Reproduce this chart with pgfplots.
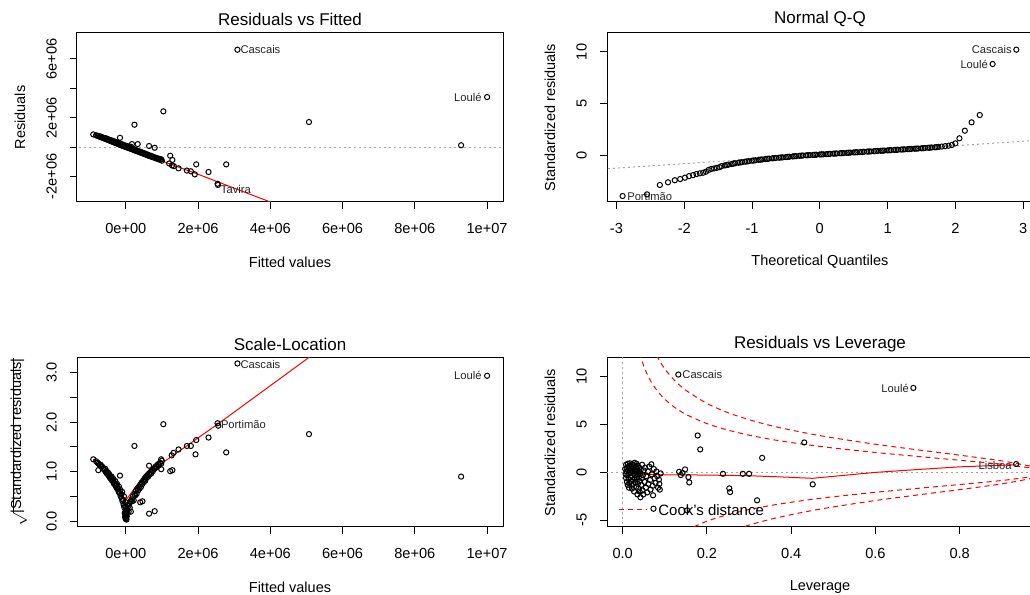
\documentclass[border=0pt]{standalone}
\usepackage{fontspec}
\setmainfont{Liberation Sans}
\usepackage{pgfplots}
\pgfplotsset{compat=1.18}

\pgfplotsset{
  rplot/.style={
    scale only axis, width=213pt, height=84.5pt, anchor=south west,
    axis line style={line width=0.5pt}, axis background/.style={fill=white},
    tick align=outside, xtick pos=left, ytick pos=left,
    major tick length=3.5pt, tick style={black, line width=0.5pt},
    minor tick num=0, clip=true,
    xticklabel style={font=\fontsize{7.3}{8}\selectfont, anchor=north, inner sep=6.8pt},
    yticklabel style={font=\fontsize{7.3}{8}\selectfont, rotate=90, anchor=south, inner sep=6.4pt},
    title style={at={(axis description cs:0.5,1.083)}, anchor=center, yshift=-6pt, font=\fontsize{8.5}{10}\selectfont},
    xlabel style={at={(axis description cs:0.5,-0.355)}, anchor=center, font=\fontsize{7.25}{8}\selectfont},
    ylabel style={at={(axis description cs:-0.134,0.5)}, anchor=center, font=\fontsize{7.25}{8}\selectfont},
  },
  pts/.style={only marks, mark=o, mark size=1.3pt, black, mark options={line width=0.5pt}},
  lowess/.style={red, line width=0.5pt, mark=none},
  zeroline/.style={gray!70, line width=0.5pt, dash pattern=on 1pt off 1.5pt, mark=none},
  cook/.style={red, line width=0.5pt, dash pattern=on 2.5pt off 2pt, mark=none, smooth},
}
\tikzset{lab/.style={font=\fontsize{5.6}{6}\selectfont, text=black!85, inner sep=0.8pt}}

\begin{document}
\begin{tikzpicture}
\path[use as bounding box, fill=white] (0,0) rectangle (515pt,297.5pt);

% ---------- Residuals vs Fitted ----------
\begin{axis}[rplot, at={(38.5pt,196.5pt)},
  xmin=-1.35, xmax=10.44, ymin=-3.74, ymax=7.76,
  xtick={0,2,4,6,8,10}, xticklabels={0e+00,2e+06,4e+06,6e+06,8e+06,1e+07},
  ytick={-2,0,2,4,6}, yticklabels={-2e+06,,2e+06,,6e+06},
  title={Residuals vs Fitted}, xlabel={Fitted values}, ylabel={Residuals}]
\addplot[zeroline] coordinates {(-2,0) (11,0)};
\addplot[pts] coordinates {
(-0.90,0.86) (-0.82,0.80) (-0.78,0.76) (-0.75,0.74) (-0.72,0.70) (-0.70,0.72) (-0.68,0.66) (-0.66,0.68)
(-0.64,0.63) (-0.62,0.62) (-0.60,0.60) (-0.58,0.58) (-0.57,0.62) (-0.55,0.54) (-0.53,0.56) (-0.52,0.51)
(-0.50,0.50) (-0.49,0.53) (-0.47,0.47) (-0.46,0.50) (-0.45,0.44) (-0.43,0.46) (-0.42,0.41) (-0.40,0.42)
(-0.39,0.45) (-0.38,0.37) (-0.36,0.38) (-0.35,0.36) (-0.34,0.40) (-0.33,0.32) (-0.31,0.33) (-0.30,0.30)
(-0.29,0.36) (-0.28,0.28) (-0.26,0.29) (-0.25,0.25) (-0.24,0.31) (-0.23,0.23) (-0.21,0.24) (-0.20,0.20)
(-0.19,0.27) (-0.18,0.18) (-0.16,0.17) (-0.15,0.22) (-0.14,0.14) (-0.12,0.16) (-0.11,0.11) (-0.10,0.19)
(-0.09,0.09) (-0.07,0.10) (-0.06,0.06) (-0.05,0.14) (-0.04,0.04) (-0.02,0.05) (-0.01,0.02) (0.00,0.08)
(0.01,0.00) (0.03,0.01) (0.04,-0.03) (0.05,0.06) (0.07,-0.05) (0.08,-0.02) (0.10,-0.09) (0.11,-0.04)
(0.13,-0.11) (0.14,0.02) (0.16,-0.14) (0.18,-0.12) (0.20,-0.18) (0.22,-0.13) (0.24,-0.22) (0.26,-0.20)
(0.28,-0.26) (0.30,-0.22) (0.32,-0.30) (0.34,-0.27) (0.36,-0.33) (0.38,-0.30) (0.40,-0.37) (0.42,-0.33)
(0.44,-0.41) (0.46,-0.38) (0.48,-0.44) (0.50,-0.42) (0.52,-0.48) (0.54,-0.45) (0.56,-0.52) (0.58,-0.50)
(0.60,-0.56) (0.62,-0.53) (0.64,-0.60) (0.66,-0.58) (0.68,-0.63) (0.70,-0.60) (0.72,-0.67) (0.75,-0.65)
(0.78,-0.72) (0.80,-0.70) (0.83,-0.77) (0.86,-0.75) (0.89,-0.82) (0.92,-0.80) (0.95,-0.87) (0.98,-0.84)
(1.00,-0.93)
(-0.16,0.63) (0.17,0.20) (0.33,0.20) (0.645,0.07) (0.80,-0.05) (0.97,-0.84)
(1.04,2.43) (0.24,1.52) (5.07,1.70) (9.28,0.12) (2.78,-1.18) (1.95,-1.18) (2.29,-1.70)
(2.54,-2.50) (2.55,-2.58) (1.91,-1.86) (1.69,-1.60) (1.80,-1.65) (1.46,-1.45) (1.28,-1.25)
(1.23,-0.59) (1.29,-0.88) (1.33,-1.30) (1.20,-1.12)
(3.09,6.62) (10.0,3.40)
};
\addplot[lowess] coordinates {(-0.90,0.86) (-0.5,0.48) (0,0.0) (0.5,-0.45) (1.0,-0.95) (2.0,-1.85) (3.0,-2.80) (4.0,-3.74) (5.0,-4.70) (10,-9.3)};
\node[lab, anchor=west] at (axis cs:3.12,6.62) {Cascais};
\node[lab, anchor=east] at (axis cs:9.90,3.40) {Loulé};
\node[lab, anchor=west] at (axis cs:2.58,-2.88) {Tavira};
\end{axis}

% ---------- Normal Q-Q ----------
\begin{axis}[rplot, at={(303.5pt,196.5pt)},
  xmin=-3.14, xmax=3.146, ymin=-4.56, ymax=11.84,
  xtick={-3,-2,-1,0,1,2,3}, xticklabels={-3,-2,-1,0,1,2,3},
  ytick={0,5,10}, yticklabels={0,5,10},
  title={Normal Q-Q}, xlabel={Theoretical Quantiles}, ylabel={Standardized residuals}]
\addplot[zeroline] coordinates {(-3.2,-1.36) (3.2,1.42)};
\addplot[pts] coordinates {
(-2.91,-3.98) (-2.55,-3.82) (-2.36,-2.91) (-2.24,-2.65) (-2.14,-2.45) (-2.06,-2.33) (-1.99,-2.20)
(-1.93,-2.05) (-1.87,-1.95) (-1.82,-1.85) (-1.77,-1.78) (-1.72,-1.72) (-1.68,-1.62) (-1.64,-1.45)
(-1.60,-1.35) (-1.56,-1.30) (-1.52,-1.25) (-1.48,-1.18) (-1.45,-1.08) (-1.40,-1.01) (-1.35,-0.94)
(-1.30,-0.87) (-1.25,-0.80) (-1.20,-0.75) (-1.15,-0.70) (-1.10,-0.65) (-1.05,-0.60) (-1.00,-0.55)
(-0.95,-0.51) (-0.90,-0.47) (-0.85,-0.43) (-0.80,-0.39) (-0.75,-0.35) (-0.70,-0.32) (-0.65,-0.29)
(-0.60,-0.26) (-0.55,-0.23) (-0.50,-0.20) (-0.45,-0.17) (-0.40,-0.14) (-0.35,-0.11) (-0.30,-0.08)
(-0.25,-0.05) (-0.20,-0.03) (-0.15,-0.01) (-0.10,0.01) (-0.05,0.03) (0.00,0.05) (0.05,0.07)
(0.10,0.09) (0.15,0.11) (0.20,0.13) (0.25,0.15) (0.30,0.17) (0.35,0.19) (0.40,0.21) (0.45,0.23)
(0.50,0.25) (0.55,0.27) (0.60,0.29) (0.65,0.31) (0.70,0.33) (0.75,0.35) (0.80,0.37) (0.85,0.39)
(0.90,0.41) (0.95,0.43) (1.00,0.45) (1.05,0.47) (1.10,0.49) (1.15,0.51) (1.20,0.53) (1.25,0.55)
(1.30,0.57) (1.35,0.59) (1.40,0.61) (1.45,0.63) (1.50,0.65) (1.55,0.68) (1.60,0.70) (1.65,0.73)
(1.70,0.75) (1.75,0.78) (1.80,0.82) (1.85,0.86) (1.90,0.90) (1.95,0.98) (2.00,1.13) (2.06,1.62)
(2.14,2.36) (2.24,3.17) (2.36,3.88) (2.55,8.83) (2.90,10.22)
(-0.975,-0.53) (-0.875,-0.45) (-0.775,-0.37) (-0.675,-0.30) (-0.575,-0.24) (-0.475,-0.18) (-0.375,-0.12)
(-0.275,-0.06) (-0.175,-0.02) (-0.075,0.02) (0.025,0.06) (0.125,0.10) (0.225,0.14) (0.325,0.18)
(0.425,0.22) (0.525,0.26) (0.625,0.30) (0.725,0.34) (0.825,0.38) (0.925,0.42) (1.025,0.46)
(1.125,0.50) (1.225,0.54) (1.325,0.58) (1.425,0.62) (1.525,0.66) (1.625,0.71) (1.725,0.76)
(-1.075,-0.62) (-1.175,-0.72) (-1.275,-0.83) (-1.375,-0.97)
};
\node[lab, anchor=east] at (axis cs:2.86,10.22) {Cascais};
\node[lab, anchor=east] at (axis cs:2.51,8.83) {Loulé};
\node[lab, anchor=west] at (axis cs:-2.87,-3.98) {Portimão};
\end{axis}

% ---------- Scale-Location ----------
\begin{axis}[rplot, at={(38.5pt,34pt)},
  xmin=-1.35, xmax=10.44, ymin=-0.12, ymax=3.30,
  xtick={0,2,4,6,8,10}, xticklabels={0e+00,2e+06,4e+06,6e+06,8e+06,1e+07},
  ytick={0,0.5,1,1.5,2,2.5,3}, yticklabels={0.0,,1.0,,2.0,,3.0},
  title={Scale-Location}, xlabel={Fitted values},
  ylabel={$\sqrt{\smash{\mbox{|Standardized residuals|}}}$}]
\addplot[pts] coordinates {
(-0.90,1.25) (-0.82,1.21) (-0.78,1.18) (-0.75,1.16) (-0.72,1.13) (-0.70,1.14) (-0.68,1.10) (-0.66,1.11)
(-0.64,1.07) (-0.62,1.06) (-0.60,1.04) (-0.58,1.03) (-0.57,1.06) (-0.55,0.99) (-0.53,1.01) (-0.52,0.96)
(-0.50,0.95) (-0.49,0.98) (-0.47,0.92) (-0.46,0.95) (-0.45,0.89) (-0.43,0.91) (-0.42,0.86) (-0.40,0.87)
(-0.39,0.90) (-0.38,0.82) (-0.36,0.83) (-0.35,0.81) (-0.34,0.85) (-0.33,0.76) (-0.31,0.77) (-0.30,0.74)
(-0.29,0.81) (-0.28,0.71) (-0.26,0.73) (-0.25,0.67) (-0.24,0.75) (-0.23,0.65) (-0.21,0.66) (-0.20,0.60)
(-0.19,0.70) (-0.18,0.57) (-0.16,0.56) (-0.15,0.63) (-0.14,0.50) (-0.12,0.54) (-0.11,0.45) (-0.10,0.59)
(-0.09,0.40) (-0.07,0.43) (-0.06,0.33) (-0.05,0.50) (-0.04,0.27) (-0.02,0.30) (-0.01,0.19) (0.00,0.38)
(0.01,0.13) (0.03,0.19) (0.04,0.23) (0.05,0.33) (0.07,0.30) (0.08,0.19) (0.10,0.36) (0.11,0.27)
(0.13,0.40) (0.14,0.19) (0.16,0.44) (0.18,0.40) (0.20,0.50) (0.22,0.42) (0.24,0.55) (0.26,0.52)
(0.28,0.61) (0.30,0.55) (0.32,0.66) (0.34,0.62) (0.36,0.69) (0.38,0.66) (0.40,0.74) (0.42,0.69)
(0.44,0.78) (0.46,0.75) (0.48,0.82) (0.50,0.79) (0.52,0.86) (0.54,0.82) (0.56,0.90) (0.58,0.88)
(0.60,0.93) (0.62,0.90) (0.64,0.96) (0.66,0.94) (0.68,0.99) (0.70,0.96) (0.72,1.02) (0.75,1.01)
(0.78,1.07) (0.80,1.06) (0.83,1.11) (0.86,1.09) (0.89,1.15) (0.92,1.13) (0.95,1.18) (0.98,1.16)
(1.00,1.22)
(0.00,0.04) (0.00,0.09) (0.01,0.06) (-0.01,0.12) (0.02,0.15) (0.00,0.22) (-0.02,0.08) (0.02,0.03)
(0.01,0.28) (0.03,0.10) (-0.03,0.16)
(-0.16,0.92) (-0.76,1.03) (-0.53,0.98) (0.645,1.12) (0.40,0.38) (0.46,0.40) (0.80,0.20) (0.645,0.15)
(0.98,1.25) (0.98,1.05) (1.23,1.01) (1.29,1.03) (1.27,1.33) (1.32,1.38) (1.46,1.45) (1.69,1.52)
(1.80,1.52) (1.93,1.35) (1.95,1.64) (2.29,1.69) (2.78,1.39) (2.54,1.98) (2.56,1.93)
(1.04,1.96) (0.24,1.52) (5.07,1.76) (9.28,0.90) (3.09,3.19) (10.0,2.94)
};
\addplot[lowess] coordinates {(-0.90,1.25) (-0.6,1.0) (-0.3,0.72) (0,0.42) (0.3,0.72) (0.6,0.95) (1.0,1.17) (2.56,1.97) (5.05,3.30) (10,6.0)};
\node[lab, anchor=west] at (axis cs:3.12,3.17) {Cascais};
\node[lab, anchor=east] at (axis cs:9.90,2.94) {Loulé};
\node[lab, anchor=west] at (axis cs:2.58,1.95) {Portimão};
\end{axis}

% ---------- Residuals vs Leverage ----------
\begin{axis}[rplot, at={(303.5pt,34pt)},
  xmin=-0.0373, xmax=0.974, ymin=-5.71, ymax=11.96,
  xtick={0,0.2,0.4,0.6,0.8}, xticklabels={0.0,0.2,0.4,0.6,0.8},
  ytick={-5,0,5,10}, yticklabels={-5,0,5,10},
  title={Residuals vs Leverage}, xlabel={Leverage}, ylabel={Standardized residuals}]
\addplot[zeroline] coordinates {(-0.1,0) (1.1,0)};
\addplot[zeroline] coordinates {(0,-7) (0,13)};
\addplot[cook] coordinates {(0.04,12.49) (0.05,11.11) (0.06,10.09) (0.07,9.29) (0.08,8.65) (0.09,8.11) (0.10,7.65) (0.12,6.90) (0.15,6.07) (0.20,5.10) (0.25,4.42) (0.30,3.89) (0.35,3.47) (0.40,3.12) (0.45,2.82) (0.50,2.55) (0.60,2.08) (0.70,1.67) (0.80,1.27) (0.90,0.85) (0.97,0.45) (0.99,0.26)};
\addplot[cook] coordinates {(0.08,12.23) (0.09,11.47) (0.10,10.82) (0.11,10.26) (0.12,9.76) (0.13,9.33) (0.15,8.58) (0.20,7.21) (0.25,6.24) (0.30,5.51) (0.35,4.91) (0.40,4.42) (0.45,3.99) (0.50,3.61) (0.60,2.94) (0.70,2.36) (0.80,1.80) (0.90,1.20) (0.97,0.63) (0.99,0.36)};
\addplot[cook] coordinates {(0.15,-6.07) (0.20,-5.10) (0.25,-4.42) (0.30,-3.89) (0.35,-3.47) (0.40,-3.12) (0.45,-2.82) (0.50,-2.55) (0.60,-2.08) (0.70,-1.67) (0.80,-1.27) (0.90,-0.85) (0.97,-0.45) (0.99,-0.26)};
\addplot[cook] coordinates {(0.25,-6.24) (0.30,-5.51) (0.35,-4.91) (0.40,-4.42) (0.45,-3.99) (0.50,-3.61) (0.60,-2.94) (0.70,-2.36) (0.80,-1.80) (0.90,-1.20) (0.97,-0.63) (0.99,-0.36)};
\addplot[pts] coordinates {
(0.006,0.35) (0.007,-0.20) (0.008,0.80) (0.008,-0.60) (0.009,0.10) (0.010,-1.00) (0.010,0.50) (0.011,-0.30)
(0.012,0.90) (0.012,-1.30) (0.013,0.20) (0.014,-0.70) (0.014,0.60) (0.015,-0.10) (0.016,-1.10) (0.016,0.40)
(0.017,0.95) (0.018,-0.50) (0.018,0.00) (0.019,0.70) (0.020,-0.90) (0.020,0.30) (0.021,-1.40) (0.022,0.55)
(0.022,-0.35) (0.023,0.85) (0.024,0.10) (0.024,-0.80) (0.025,-1.20) (0.026,0.45) (0.026,-0.15) (0.027,0.75)
(0.028,-0.60) (0.028,1.00) (0.029,0.20) (0.030,-1.00) (0.030,-0.30) (0.031,0.60) (0.032,-1.50) (0.032,0.05)
(0.033,0.90) (0.034,-0.70) (0.034,0.35) (0.035,-0.20) (0.036,-1.20) (0.036,0.70) (0.037,-1.70) (0.038,0.15)
(0.038,-0.50) (0.039,0.50) (0.040,-0.90) (0.040,-2.00) (0.041,-0.10) (0.042,-2.60) (0.043,0.30) (0.044,-1.30)
(0.045,-0.60) (0.046,0.80) (0.047,-1.90) (0.048,-0.30) (0.049,-2.30) (0.050,0.20) (0.052,-1.00) (0.053,0.50)
(0.055,-1.60) (0.056,-0.40) (0.058,-2.10) (0.060,0.10) (0.061,-1.20) (0.063,0.60) (0.065,-0.80) (0.066,-1.80)
(0.068,0.85) (0.069,-0.20) (0.071,-1.40) (0.072,-2.40) (0.074,0.35) (0.076,-0.60) (0.078,-1.10) (0.080,0.10)
(0.082,-0.40) (0.084,-1.60) (0.086,-0.75) (0.087,-1.20) (0.088,-1.80) (0.090,-0.10)
(0.015,-1.60) (0.022,-1.70) (0.027,-2.00) (0.035,-2.30)
(0.132,10.23) (0.69,8.83) (0.934,0.87) (0.178,3.86) (0.184,2.40) (0.431,3.13) (0.331,1.52)
(0.451,-1.25) (0.319,-2.92) (0.253,-1.67) (0.255,-2.06) (0.238,-0.15) (0.285,-0.15) (0.300,-0.15)
(0.134,0.06) (0.148,0.31) (0.138,-0.28) (0.142,-0.05) (0.156,-0.49) (0.158,-1.05)
(0.073,-3.80) (0.153,-3.97)
};
\addplot[lowess] coordinates {(0.005,0.20) (0.02,0.0) (0.05,-0.20) (0.10,-0.25) (0.20,-0.28) (0.30,-0.35) (0.38,-0.48) (0.45,-0.62) (0.60,0.0) (0.70,0.30) (0.80,0.58) (0.934,0.80)};
\node[lab, anchor=west] at (axis cs:0.137,10.23) {Cascais};
\node[lab, anchor=east] at (axis cs:0.684,8.78) {Loulé};
\node[lab, anchor=east] at (axis cs:0.928,0.69) {Lisboa};
% legend (Cook's distance), as R draws it in the bottom-left corner
\draw[red, line width=0.5pt, dash pattern=on 2.5pt off 2pt] (rel axis cs:0.028,0.102) -- ++(14pt,0pt);
\node[anchor=west, inner sep=0pt, font=\fontsize{7.5}{9}\selectfont] at ([xshift=19.5pt]rel axis cs:0.028,0.102) {Cook's distance};
\end{axis}
\end{tikzpicture}
\end{document}
